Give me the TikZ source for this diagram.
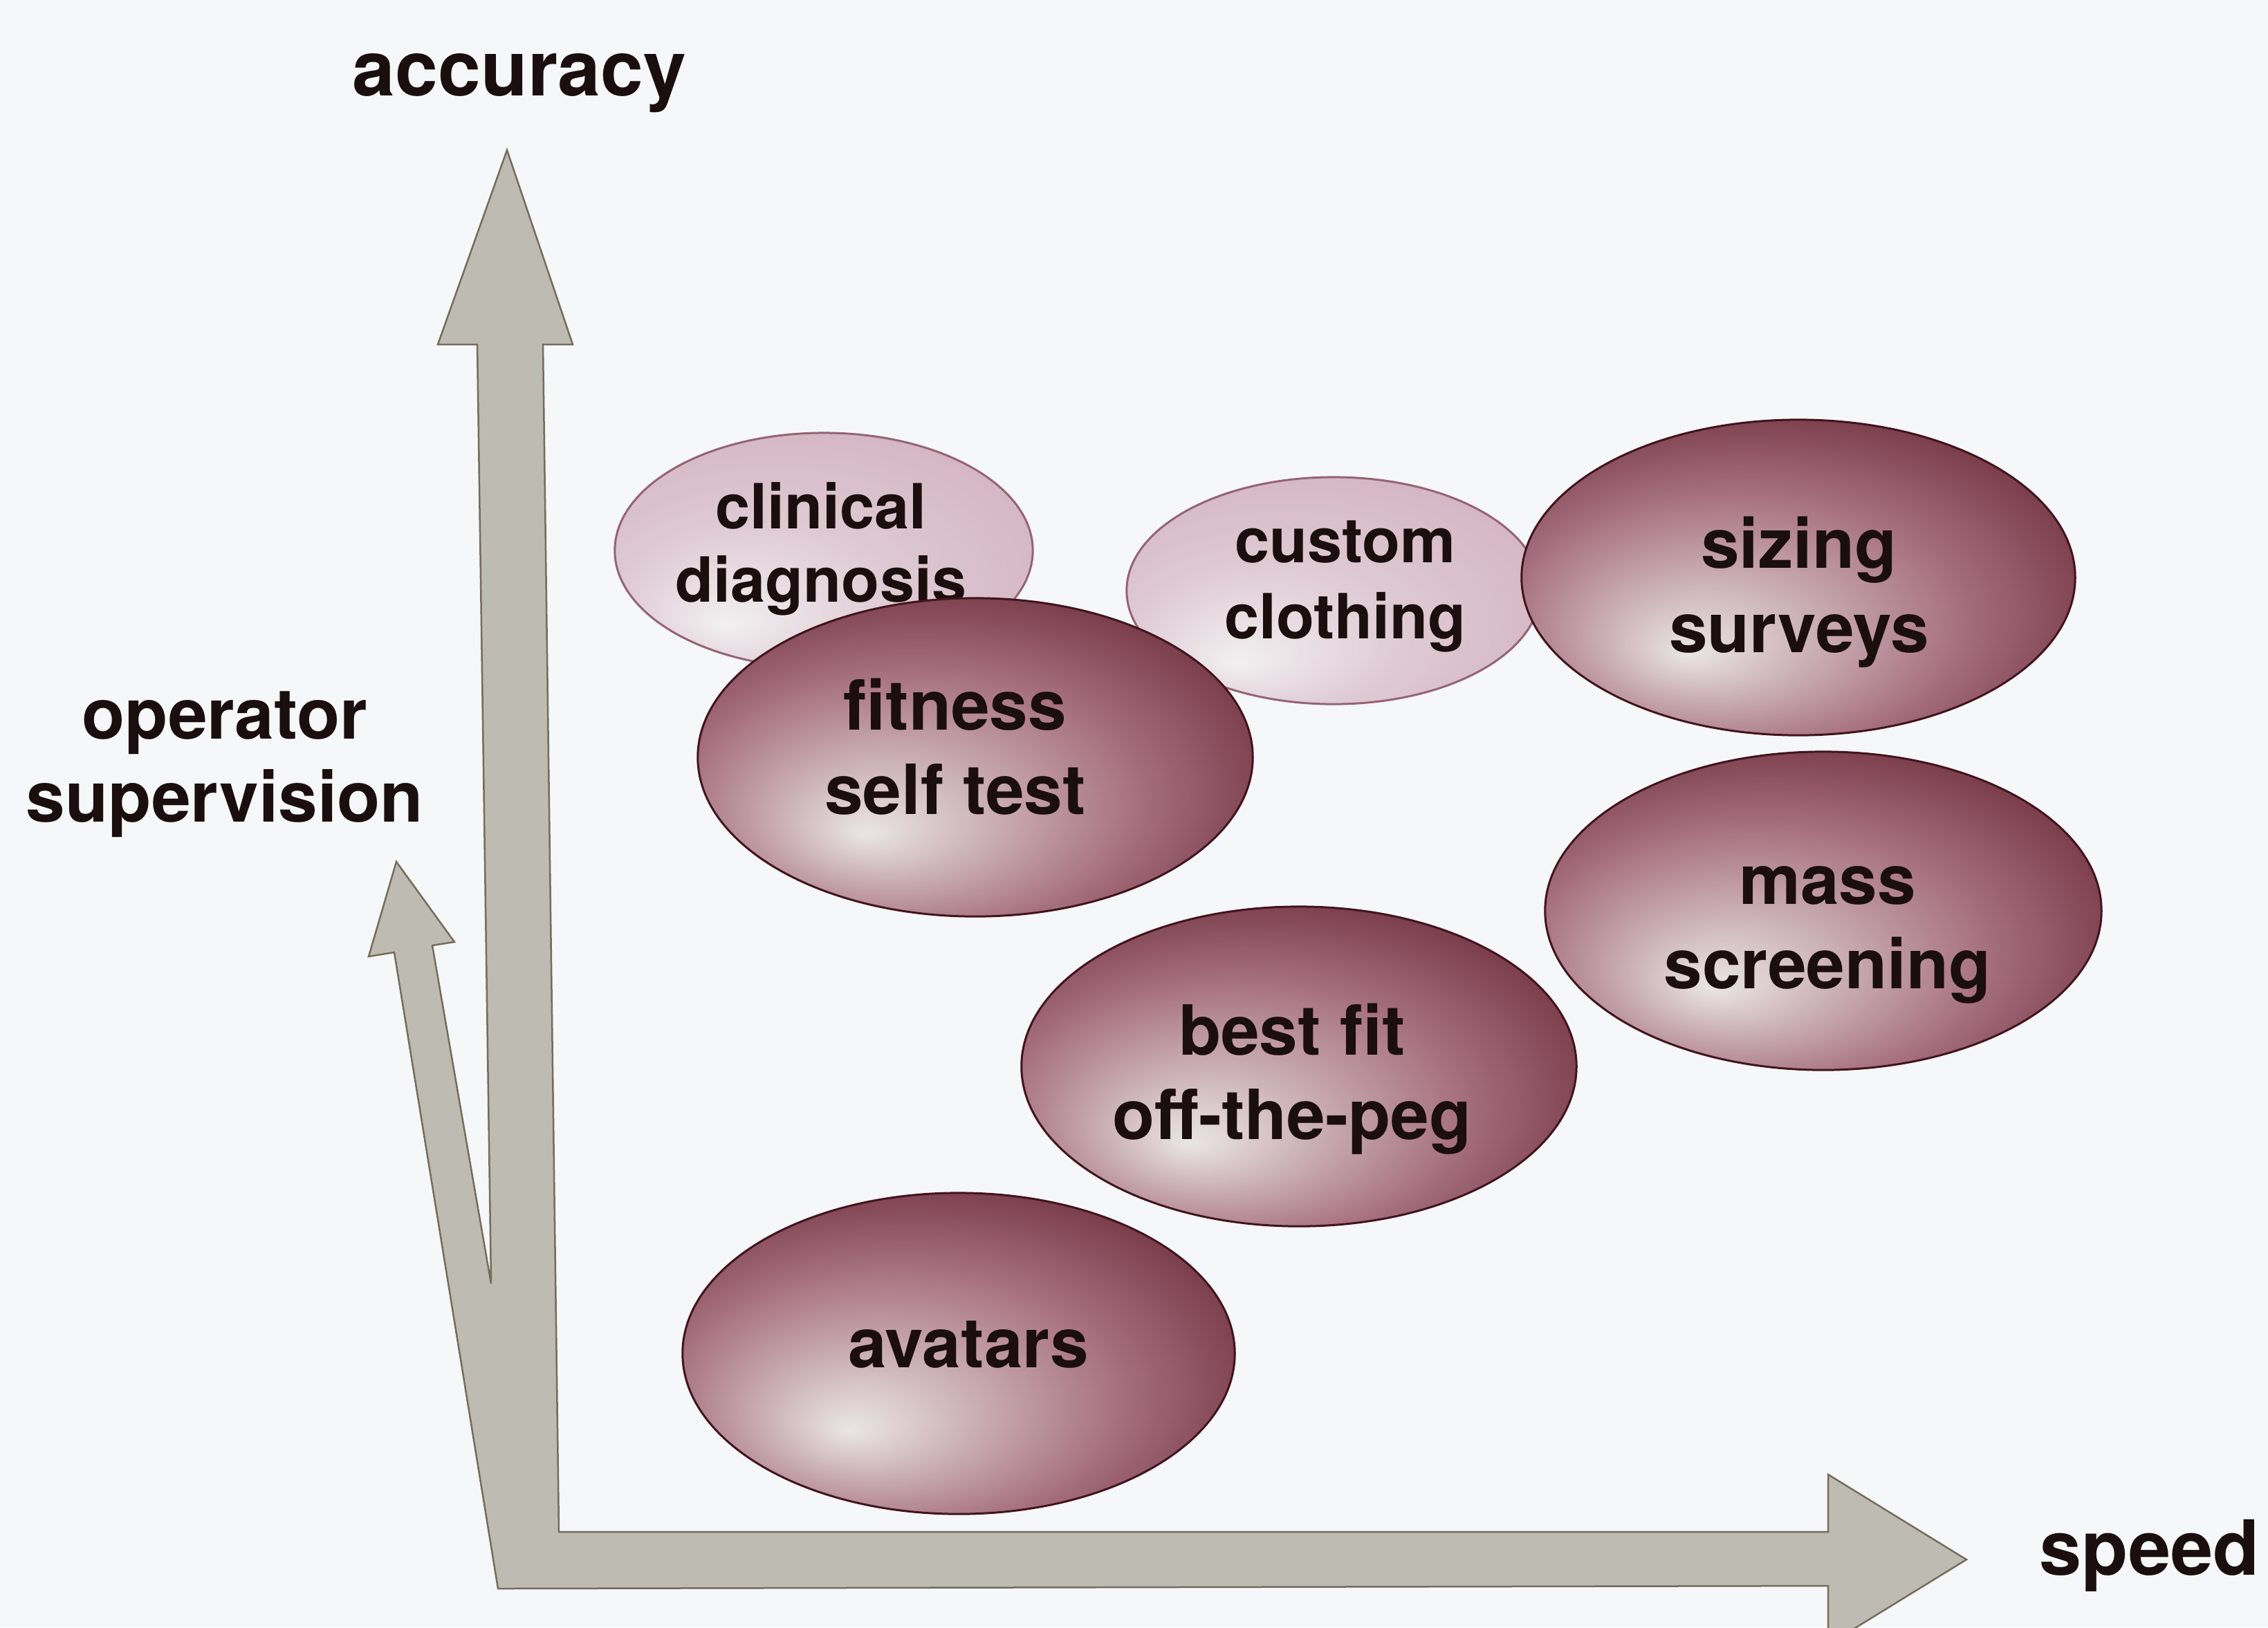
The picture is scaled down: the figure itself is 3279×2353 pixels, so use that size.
\documentclass[tikz,border=0pt]{standalone}
\usepackage{fontspec}
\setmainfont{TeX Gyre Heros}
\usetikzlibrary{shapes.geometric}

\definecolor{pagebg}{RGB}{246,247,248}
\definecolor{axisfill}{RGB}{190,188,178}
\definecolor{axisline}{RGB}{118,108,92}
\definecolor{inkcol}{RGB}{26,14,14}
\definecolor{mvHi}{RGB}{234,230,230}
\definecolor{mvMid}{RGB}{168,114,130}
\definecolor{mvDeep}{RGB}{106,42,55}
\definecolor{mvEdge}{RGB}{66,18,26}
\definecolor{lvHi}{RGB}{242,240,241}
\definecolor{lvMid}{RGB}{210,178,192}
\definecolor{lvEdge}{RGB}{184,134,154}
\definecolor{darkrim}{RGB}{66,20,30}
\definecolor{lightrim}{RGB}{150,100,115}

% ball-like fills with the highlight below and left of the centre
\pgfdeclareradialshading{darkball}{\pgfpoint{-10bp}{-12bp}}{color(0bp)=(mvHi); color(6bp)=(mvHi!70!mvMid); color(20bp)=(mvMid); color(35bp)=(mvDeep); color(50bp)=(mvEdge)}
\pgfdeclareradialshading{lightball}{\pgfpoint{-12bp}{-16bp}}{color(0bp)=(lvHi); color(16bp)=(lvHi!40!lvMid); color(36bp)=(lvMid); color(50bp)=(lvEdge)}

\tikzset{
  axisshape/.style={fill=axisfill, draw=axisline, line width=0.025cm, line join=miter},
  darkE/.style={ellipse, inner sep=0pt, shade, shading=darkball, draw=darkrim, line width=0.03cm},
  lightE/.style={ellipse, inner sep=0pt, shade, shading=lightball, draw=lightrim, line width=0.03cm},
  darkT/.style={inner sep=0pt, align=center, text=inkcol, font=\bfseries\fontsize{28.45pt}{34.7pt}\selectfont},
  lightT/.style={inner sep=0pt, align=center, text=inkcol, font=\bfseries\fontsize{25.6pt}{30pt}\selectfont},
  axisT/.style={inner sep=0pt, align=center, text=inkcol, font=\bfseries\fontsize{31.6pt}{36pt}\selectfont}
}

\begin{document}
\begin{tikzpicture}[x=0.01cm, y=-0.01cm]
\fill[pagebg] (0,0) rectangle (3279,2353);
\useasboundingbox (0,0) rectangle (3279,2353);
\clip (0,0) rectangle (3279,2353);

% outline points of the three joined axis arrows
\coordinate (vTip) at (733,217);
\coordinate (vHR)  at (828,498);
\coordinate (vSR)  at (785,498);
\coordinate (inC)  at (808,2215);
\coordinate (hBT)  at (2643,2215);
\coordinate (hHT)  at (2643,2132);
\coordinate (hTip) at (2843,2255);
\coordinate (hHB)  at (2643,2378);
\coordinate (hBB)  at (2643,2293);
\coordinate (blc)  at (720,2297);
\coordinate (dSL)  at (570,1377);
\coordinate (dHL)  at (533,1383);
\coordinate (dTip) at (573,1246);
\coordinate (dHR)  at (657,1362);
\coordinate (dSR)  at (625,1367);
\coordinate (vee)  at (710,1856);
\coordinate (vSL)  at (690,498);
\coordinate (vHL)  at (633,498);

\path[axisshape] (vTip) -- (vHR) -- (vSR) -- (inC) -- (hBT) -- (hHT) -- (hTip) -- (hHB)
  -- (hBB) -- (blc) -- (dSL) -- (dHL) -- (dTip) -- (dHR) -- (dSR) -- (vee) -- (vSL) -- (vHL) -- cycle;

% axis labels
\node[axisT, anchor=base] (accT) at (751,138) {accuracy};
\node[axisT, anchor=base west, font=\bfseries\fontsize{31.3pt}{36pt}\selectfont] (speedT) at (2948,2277) {speed};
\node[inner sep=0pt, align=center, text=inkcol, font=\bfseries\fontsize{29pt}{34.1pt}\selectfont] (opT) at (325,1105) {operator\\supervision};

% application areas
\node[lightE, minimum width=6.04cm, minimum height=3.40cm] (clin) at (1191,796) {};
\node[lightT, font=\bfseries\fontsize{25.6pt}{30pt}\selectfont] (clinT) at (1187,794) {clinical\\diagnosis};

\node[lightE, minimum width=5.98cm, minimum height=3.28cm] (cust) at (1928,854) {};
\node[lightT, font=\bfseries\fontsize{25.6pt}{31.3pt}\selectfont] (custT) at (1945,848) {custom\\clothing};

\node[darkE, minimum width=8.02cm, minimum height=4.60cm] (fit) at (1410,1095) {};
\node[darkT] (fitT) at (1381,1080) {fitness\\self test};

\node[darkE, minimum width=8.00cm, minimum height=4.56cm] (size) at (2600,835) {};
\node[darkT] (sizeT) at (2601,856) {sizing\\surveys};

\node[darkE, minimum width=8.04cm, minimum height=4.60cm] (mass) at (2636,1317) {};
\node[darkT] (massT) at (2642,1352) {mass\\screening};

\node[darkE, minimum width=8.02cm, minimum height=4.62cm] (best) at (1878,1542) {};
\node[darkT] (bestT) at (1868,1560) {best fit\\off-the-peg};

\node[darkE, minimum width=7.98cm, minimum height=4.64cm] (avat) at (1386,1957) {};
\node[darkT, anchor=base] (avatT) at (1400,1977) {avatars};
\end{tikzpicture}
\end{document}
